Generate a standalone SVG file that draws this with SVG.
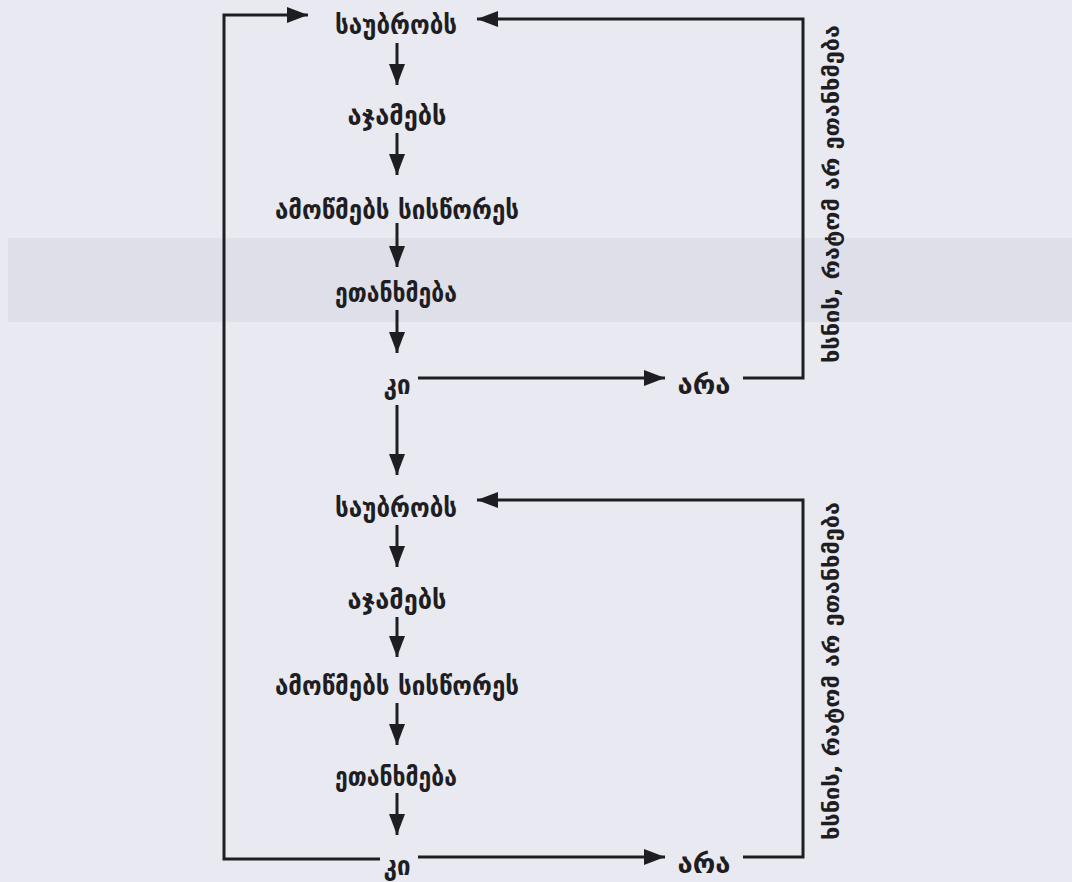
<svg xmlns="http://www.w3.org/2000/svg" width="1072" height="882" viewBox="0 0 1072 882">
<defs>
<style>
.lbl{font-family:"DejaVu Sans","Noto Sans",sans-serif;font-weight:bold;font-size:26px;fill:#1e1e22;text-anchor:middle;dominant-baseline:central}
.vl{font-size:22px}
.ln{fill:none;stroke:#1e1e22;stroke-width:3;stroke-linecap:butt;stroke-linejoin:miter}
.arr{marker-end:url(#ah)}
</style>
<marker id="ah" markerUnits="userSpaceOnUse" markerWidth="24" markerHeight="18" refX="21" refY="9" orient="auto">
<path d="M0,1 L21,9 L0,17 Z" fill="#1e1e22"/>
</marker>
</defs>
<rect x="0" y="0" width="1072" height="882" fill="#e9e9f2"/>
<rect x="8" y="238" width="1064" height="84" fill="#dedfe8"/>

<g id="connectors">
<line class="ln arr" x1="397" y1="43" x2="397" y2="85"/>
<line class="ln arr" x1="397" y1="133" x2="397" y2="175"/>
<line class="ln arr" x1="397" y1="223" x2="397" y2="267"/>
<line class="ln arr" x1="397" y1="310" x2="397" y2="353"/>
<line class="ln arr" x1="397" y1="405" x2="397" y2="475"/>
<line class="ln arr" x1="418" y1="378" x2="665" y2="378"/>
<polyline class="ln arr" points="743,378 803,378 803,19 477,19"/>
<polyline class="ln arr" points="380,859 224,859 224,15 308,15"/>
<line class="ln arr" x1="397" y1="525" x2="397" y2="567"/>
<line class="ln arr" x1="397" y1="617" x2="397" y2="657"/>
<line class="ln arr" x1="397" y1="703" x2="397" y2="745"/>
<line class="ln arr" x1="397" y1="793" x2="397" y2="835"/>
<line class="ln arr" x1="418" y1="857" x2="665" y2="857"/>
<polyline class="ln arr" points="743,857 803,857 803,500 477,500"/>
</g>

<g id="n1-talks"><text class="lbl" x="396" y="25" textLength="122" lengthAdjust="spacingAndGlyphs">საუბრობს</text></g>
<g id="n1-sums"><text class="lbl" x="397" y="116" textLength="99" lengthAdjust="spacingAndGlyphs">აჯამებს</text></g>
<g id="n1-checks"><text class="lbl" x="397" y="210" textLength="244" lengthAdjust="spacingAndGlyphs">ამოწმებს სისწორეს</text></g>
<g id="n1-agrees"><text class="lbl" x="396" y="293" textLength="122" lengthAdjust="spacingAndGlyphs">ეთანხმება</text></g>
<g id="n1-yes"><text class="lbl" x="397" y="385" textLength="27" lengthAdjust="spacingAndGlyphs">კი</text></g>
<g id="n1-no"><text class="lbl" x="704" y="385" textLength="53" lengthAdjust="spacingAndGlyphs">არა</text></g>
<g id="n1-explains"><text class="lbl vl" transform="translate(831,194) rotate(-90)" x="0" y="0" textLength="338" lengthAdjust="spacingAndGlyphs">ხსნის, რატომ არ ეთანხმება</text></g>

<g id="n2-talks"><text class="lbl" x="396" y="508" textLength="122" lengthAdjust="spacingAndGlyphs">საუბრობს</text></g>
<g id="n2-sums"><text class="lbl" x="397" y="600" textLength="99" lengthAdjust="spacingAndGlyphs">აჯამებს</text></g>
<g id="n2-checks"><text class="lbl" x="397" y="686" textLength="244" lengthAdjust="spacingAndGlyphs">ამოწმებს სისწორეს</text></g>
<g id="n2-agrees"><text class="lbl" x="396" y="777" textLength="122" lengthAdjust="spacingAndGlyphs">ეთანხმება</text></g>
<g id="n2-yes"><text class="lbl" x="397" y="866" textLength="27" lengthAdjust="spacingAndGlyphs">კი</text></g>
<g id="n2-no"><text class="lbl" x="704" y="864" textLength="53" lengthAdjust="spacingAndGlyphs">არა</text></g>
<g id="n2-explains"><text class="lbl vl" transform="translate(831,671) rotate(-90)" x="0" y="0" textLength="338" lengthAdjust="spacingAndGlyphs">ხსნის, რატომ არ ეთანხმება</text></g>
</svg>
